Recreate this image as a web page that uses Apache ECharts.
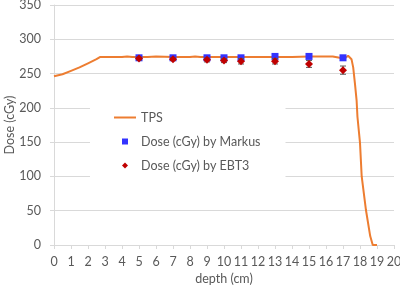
<!DOCTYPE html>
<html>
<head>
	<meta charset="utf-8">
	<script type="text/javascript" src="https://cdn.jsdelivr.net/npm/echarts@6/dist/echarts.min.js"></script>
	<style>
		html, body { margin: 0; padding: 0; background: #fff; }
	</style>
</head>
<body>
	<div id="main" style="width: 400px; height: 286px;"></div>
	<script type="text/javascript">
		// TPS depth-dose curve
		var tpsDepth = [0, 0.5, 1, 1.5, 2, 2.5, 2.7, 3.5, 4, 4.3, 4.6, 5, 5.5, 6, 7, 8, 8.3, 8.6, 9, 10, 11, 12, 13, 14, 15, 16, 16.4, 16.8, 17.1, 17.3, 17.5, 17.6, 17.7, 17.8, 17.85, 18, 18.1, 18.35, 18.6, 18.75, 19];
		var tpsDose  = [246, 249, 254, 259, 265, 271, 274, 274, 274, 275, 274, 274, 274, 275, 274, 274, 275, 274, 274, 274, 274, 274, 274, 274, 275, 275, 275, 273, 272, 276, 271, 259, 236, 211, 187, 149, 100, 51, 13, 0, 0];

		// measured points
		var pointDepth = [5, 7, 9, 10, 11, 13, 15, 17];
		var markusDose = [273, 273, 273, 273, 273, 275, 275, 273];
		var ebt3Dose   = [272, 271, 270, 269, 268, 268, 264, 255];
		var ebt3Err    = [2, 2, 3, 3, 4, 4, 5, 6];

		var textColor = '#595959';
		var font = 'Lato';
		var fs = 12.5;

		var tpsData = tpsDepth.map(function (d, i) { return [d, tpsDose[i]]; });
		var markusData = pointDepth.map(function (d, i) { return [d, markusDose[i]]; });
		var ebt3Data = pointDepth.map(function (d, i) { return [d, ebt3Dose[i]]; });
		var errData = pointDepth.map(function (d, i) { return [d, ebt3Dose[i] - ebt3Err[i], ebt3Dose[i] + ebt3Err[i]]; });

		var chart = echarts.init(document.getElementById('main'));

		chart.setOption({
			animation: false,
			grid: { left: 54, right: 6, top: 5, bottom: 41, outerBoundsMode: 'none', containLabel: false },
			legend: {
				orient: 'vertical',
				left: 90,
				top: 101,
				padding: [10, 25, 10, 24],
				itemGap: 11,
				itemWidth: 22,
				itemHeight: 6,
				symbolKeepAspect: true,
				backgroundColor: '#fff',
				textStyle: { color: textColor, fontSize: fs, fontFamily: font },
				data: [
					{ name: 'TPS', icon: 'path://M0 0H22V2H0Z' },
					{ name: 'Dose (cGy) by Markus', icon: 'path://M0 0H10V10H0Z' },
					{ name: 'Dose (cGy) by EBT3', icon: 'path://M5 0L10 5L5 10L0 5Z' }
				]
			},
			xAxis: {
				type: 'value',
				min: 0,
				max: 20,
				interval: 1,
				name: 'depth (cm)',
				nameLocation: 'middle',
				nameGap: 27,
				nameMoveOverlap: false,
				nameTextStyle: { color: textColor, fontSize: fs, fontFamily: font },
				axisLine: { lineStyle: { color: '#d9d9d9' } },
				axisTick: { show: true, length: 4, lineStyle: { color: '#d9d9d9' } },
				axisLabel: { color: textColor, fontSize: fs, fontFamily: font, margin: 10 },
				splitLine: { show: false }
			},
			yAxis: {
				type: 'value',
				min: 0,
				max: 350,
				interval: 50,
				name: 'Dose (cGy)',
				nameLocation: 'middle',
				nameGap: 38,
				nameMoveOverlap: false,
				nameTextStyle: { color: textColor, fontSize: fs, fontFamily: font },
				axisLine: { show: true, lineStyle: { color: '#d9d9d9' } },
				axisTick: { show: true, length: 4, lineStyle: { color: '#d9d9d9' } },
				axisLabel: { color: textColor, fontSize: fs, fontFamily: font, margin: 13 },
				splitLine: { lineStyle: { color: '#d9d9d9' } }
			},
			series: [
				{
					name: 'TPS',
					type: 'line',
					data: tpsData,
					symbol: 'none',
					lineStyle: { color: '#ED7D31', width: 2 },
					itemStyle: { color: '#ED7D31' },
					z: 2
				},
				{
					name: 'Dose (cGy) by Markus',
					type: 'scatter',
					data: markusData,
					symbol: 'rect',
					symbolSize: 7,
					itemStyle: { color: '#3333FF', opacity: 1 },
					z: 3
				},
				{
					name: 'Dose (cGy) by EBT3',
					type: 'custom',
					data: errData,
					renderItem: function (params, api) {
						var x = api.value(0);
						var lo = api.coord([x, api.value(1)]);
						var hi = api.coord([x, api.value(2)]);
						var cap = 3;
						var st = { stroke: '#595959', lineWidth: 1 };
						return {
							type: 'group',
							children: [
								{ type: 'line', shape: { x1: lo[0], y1: lo[1], x2: hi[0], y2: hi[1] }, style: st },
								{ type: 'line', shape: { x1: lo[0] - cap, y1: lo[1], x2: lo[0] + cap, y2: lo[1] }, style: st },
								{ type: 'line', shape: { x1: hi[0] - cap, y1: hi[1], x2: hi[0] + cap, y2: hi[1] }, style: st }
							]
						};
					},
					itemStyle: { color: '#C00000' },
					z: 4
				},
				{
					name: 'Dose (cGy) by EBT3',
					type: 'scatter',
					data: ebt3Data,
					symbol: 'diamond',
					symbolSize: 8,
					itemStyle: { color: '#C00000', opacity: 1 },
					z: 5
				}
			]
		});
	</script>
</body>
</html>
